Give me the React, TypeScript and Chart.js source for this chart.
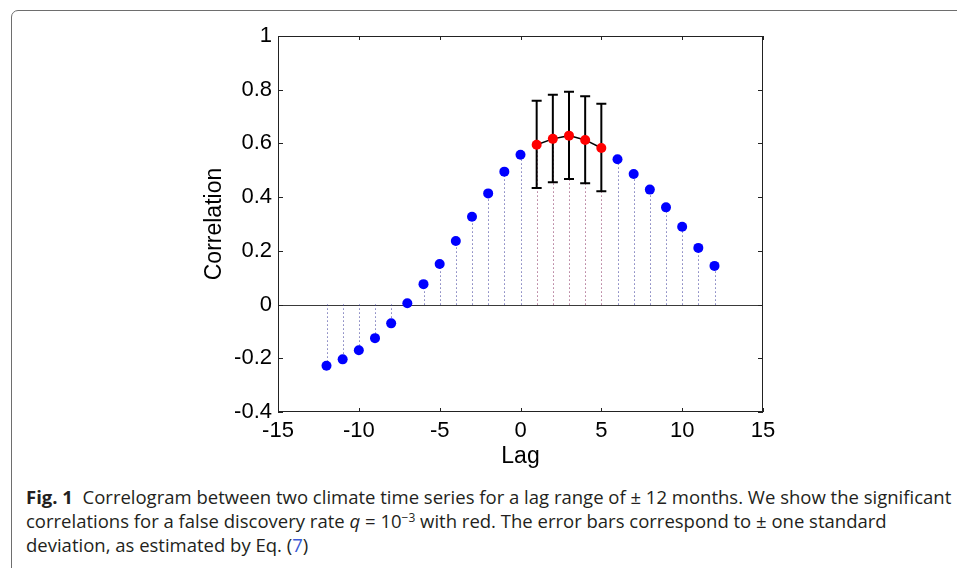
import React, { useEffect, useRef } from "react";
import { Chart, registerables } from "chart.js";

Chart.register(...registerables);

const lags = [-12, -11, -10, -9, -8, -7, -6, -5, -4, -3, -2, -1, 0, 1, 2, 3, 4, 5, 6, 7, 8, 9, 10, 11, 12];
const correlation = [
  -0.228, -0.204, -0.17, -0.125, -0.07, 0.005, 0.076, 0.151, 0.237, 0.327, 0.414, 0.495, 0.558,
  0.595, 0.617, 0.629, 0.613, 0.583, 0.541, 0.486, 0.428, 0.362, 0.29, 0.211, 0.144,
];
const significantLags = [1, 2, 3, 4, 5];
const errorUpper = [0.759, 0.781, 0.792, 0.776, 0.748];
const errorLower = [0.434, 0.455, 0.468, 0.452, 0.422];
const xTicks = [-15, -10, -5, 0, 5, 10, 15];
const yTicks = [-0.4, -0.2, 0, 0.2, 0.4, 0.6, 0.8, 1];

const fmtY = (v: number) => {
  const r = Math.round(v * 10) / 10;
  return r === 0 ? "0" : String(r);
};

export default function App() {
  const ref = useRef<HTMLCanvasElement | null>(null);

  useEffect(() => {
    if (!ref.current) return;
    const isSig = (l: number) => significantLags.includes(l);
    const bluePts = lags
      .map((l, i) => ({ x: l, y: correlation[i] }))
      .filter((p) => !isSig(p.x));
    const redPts = lags
      .map((l, i) => ({ x: l, y: correlation[i] }))
      .filter((p) => isSig(p.x));

    const decor = {
      id: "decor",
      beforeDatasetsDraw(chart: any) {
        const { ctx, chartArea, scales } = chart;
        const xs = scales.x;
        const ys = scales.y;
        ctx.save();
        // zero line
        ctx.strokeStyle = "#3a3a3a";
        ctx.lineWidth = 1;
        ctx.beginPath();
        const y0 = Math.round(ys.getPixelForValue(0)) + 0.5;
        ctx.moveTo(chartArea.left, y0);
        ctx.lineTo(chartArea.right, y0);
        ctx.stroke();
        // stems
        ctx.setLineDash([1, 3]);
        lags.forEach((l, i) => {
          const px = Math.round(xs.getPixelForValue(l)) + 0.5;
          ctx.strokeStyle = isSig(l) ? "#8a3060" : "#3a3a9a";
          ctx.beginPath();
          ctx.moveTo(px, ys.getPixelForValue(0));
          ctx.lineTo(px, ys.getPixelForValue(correlation[i]));
          ctx.stroke();
        });
        ctx.setLineDash([]);
        // error bars
        ctx.strokeStyle = "#000";
        significantLags.forEach((l, i) => {
          const px = xs.getPixelForValue(l);
          const pu = ys.getPixelForValue(errorUpper[i]);
          const pl = ys.getPixelForValue(errorLower[i]);
          ctx.lineWidth = 2;
          ctx.beginPath();
          ctx.moveTo(px, pu);
          ctx.lineTo(px, pl);
          ctx.stroke();
          ctx.lineWidth = 2;
          ctx.beginPath();
          ctx.moveTo(px - 5, pu);
          ctx.lineTo(px + 5, pu);
          ctx.moveTo(px - 5, pl);
          ctx.lineTo(px + 5, pl);
          ctx.stroke();
        });
        ctx.restore();
      },
      afterDraw(chart: any) {
        const { ctx, chartArea, scales } = chart;
        const xs = scales.x;
        const ys = scales.y;
        const { left, right, top, bottom } = chartArea;
        ctx.save();
        ctx.strokeStyle = "#222";
        ctx.lineWidth = 1;
        ctx.strokeRect(left + 0.5, top + 0.5, right - left - 1, bottom - top - 1);
        ctx.beginPath();
        xTicks.forEach((t) => {
          const px = Math.round(xs.getPixelForValue(t)) + 0.5;
          ctx.moveTo(px, bottom);
          ctx.lineTo(px, bottom - 4);
          ctx.moveTo(px, top);
          ctx.lineTo(px, top + 4);
        });
        yTicks.forEach((t) => {
          const py = Math.round(ys.getPixelForValue(t)) + 0.5;
          ctx.moveTo(left, py);
          ctx.lineTo(left + 5, py);
          ctx.moveTo(right, py);
          ctx.lineTo(right - 5, py);
        });
        ctx.stroke();
        ctx.restore();
      },
    };

    const font = { family: "'Liberation Sans', Arial, sans-serif", size: 22 };
    const chart = new Chart(ref.current, {
      type: "scatter",
      data: {
        datasets: [
          {
            data: redPts,
            showLine: true,
            borderColor: "#000",
            borderWidth: 1.5,
            pointRadius: 5,
            pointBackgroundColor: "#ff0000",
            pointBorderColor: "#ff0000",
            pointBorderWidth: 0,
            order: 1,
          },
          {
            data: bluePts,
            showLine: false,
            pointRadius: 5,
            pointBackgroundColor: "#0000ff",
            pointBorderColor: "#0000ff",
            pointBorderWidth: 0,
            order: 2,
          },
        ],
      },
      options: {
        animation: false,
        responsive: false,
        devicePixelRatio: 1,
        layout: { padding: { left: 190, top: 36, right: 194, bottom: 0 } },
        plugins: { legend: { display: false }, tooltip: { enabled: false } },
        scales: {
          x: {
            type: "linear",
            min: -15,
            max: 15,
            afterFit: (s: any) => {
              s.height = 58;
            },
            afterBuildTicks: (s: any) => {
              s.ticks = xTicks.map((v) => ({ value: v }));
            },
            grid: { display: false, drawTicks: false },
            border: { display: false },
            ticks: { font, color: "#000", padding: 6, maxRotation: 0, callback: (v: any) => String(v) },
            title: { display: true, text: "Lag", font: { ...font, size: 23 }, color: "#000", padding: { top: 0, bottom: 0 } },
          },
          y: {
            type: "linear",
            min: -0.4,
            max: 1,
            afterFit: (s: any) => {
              s.width = 88;
            },
            afterBuildTicks: (s: any) => {
              s.ticks = yTicks.map((v) => ({ value: v }));
            },
            grid: { display: false, drawTicks: false },
            border: { display: false },
            ticks: { font, color: "#000", padding: 6, callback: (v: any) => fmtY(Number(v)) },
            title: { display: true, text: "Correlation", font: { ...font, size: 23 }, color: "#000", padding: { top: 11, bottom: 0 } },
          },
        },
      },
      plugins: [decor],
    });
    return () => chart.destroy();
  }, []);

  const cap: React.CSSProperties = {
    position: "absolute",
    left: 26,
    fontFamily: "'Open Sans', sans-serif",
    fontSize: 18.5,
    color: "#231f20",
    whiteSpace: "nowrap",
    lineHeight: "24px",
  };

  return (
    <div style={{ position: "fixed", left: 0, top: 0, width: 957, height: 568, background: "#fff", overflow: "hidden" }}>
      <div
        style={{
          position: "absolute",
          left: 11,
          top: 10,
          width: 1000,
          height: 700,
          border: "1.5px solid #6e6e6e",
          borderRadius: 7,
          boxSizing: "border-box",
        }}
      />
      <canvas ref={ref} width={957} height={470} style={{ position: "absolute", left: 0, top: 0, width: 957, height: 470 }} />
      <div style={{ ...cap, top: 485 }}>
        <b>Fig. 1</b>&nbsp; Correlogram between two climate time series for a lag range of ± 12 months. We show the significant
      </div>
      <div style={{ ...cap, top: 509 }}>
        correlations for a false discovery rate <i>q</i> = 10<sup style={{ fontSize: 12, lineHeight: 0, verticalAlign: "6px" }}>−3</sup> with red. The error bars correspond to ± one standard
      </div>
      <div style={{ ...cap, top: 533 }}>
        deviation, as estimated by Eq. (<span style={{ color: "#3b5bd6" }}>7</span>)
      </div>
    </div>
  );
}
